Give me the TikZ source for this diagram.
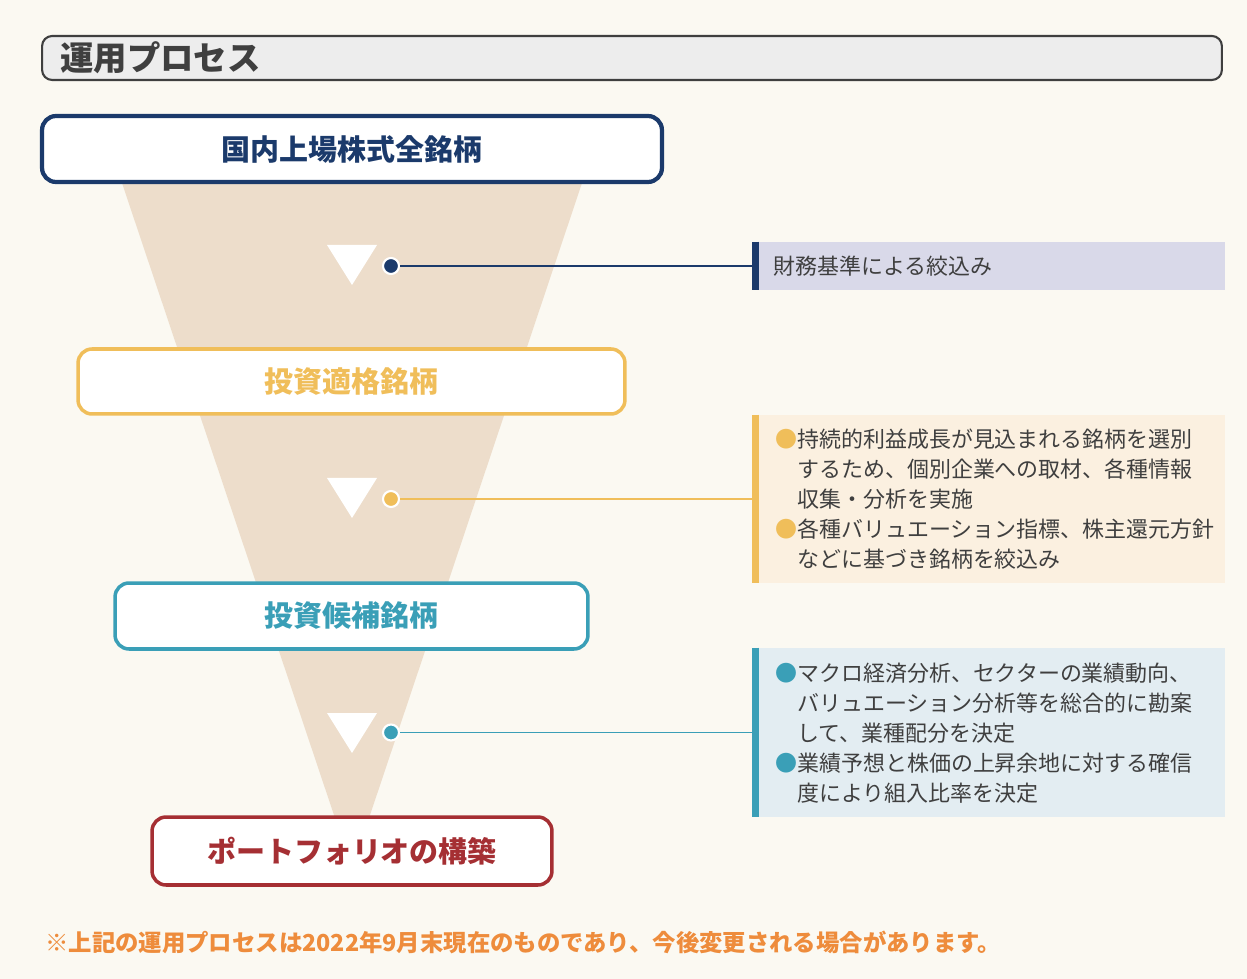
\documentclass[tikz,border=0pt]{standalone}
\usepackage{fontspec}
\newfontfamily\jp{Noto Sans CJK JP}
\usetikzlibrary{positioning}

\definecolor{bgcol}{HTML}{FBF9F2}
\definecolor{funnel}{HTML}{EDDDCB}
\definecolor{navy}{HTML}{1B3A6B}
\definecolor{gold}{HTML}{F0BE5A}
\definecolor{teal}{HTML}{3A9FB7}
\definecolor{wine}{HTML}{A52F33}
\definecolor{txtgray}{HTML}{3F3F3F}
\definecolor{titlegray}{HTML}{EDEDED}
\definecolor{lav}{HTML}{D9D9E9}
\definecolor{cream}{HTML}{FBF0E0}
\definecolor{ice}{HTML}{E3EDF2}
\definecolor{note}{HTML}{EE8C3C}

\begin{document}
\begin{tikzpicture}[x=0.02cm,y=-0.02cm,
	every node/.style={font=\jp},
	stage/.style={draw,fill=white,rounded corners=0.28cm,line width=2pt,minimum height=1.32cm,font=\jp\bfseries\fontsize{16.5}{18}\selectfont},
	panel/.style={inner sep=0,minimum width=9.46cm},
	paneltext/.style={anchor=west,inner sep=0,align=left,text=txtgray,font=\jp\fontsize{12.5}{17}\selectfont},
	dot/.style={circle,draw=white,line width=1.2pt,minimum size=0.32cm,inner sep=0},
	link/.style={line width=1.1pt}]

		%background
		\fill[bgcol] (0,0) rectangle (1247,979);
		\useasboundingbox (0,0) rectangle (1247,979);

		%title
		\node[draw=txtgray,fill=titlegray,line width=1.2pt,rounded corners=0.2cm,minimum width=23.6cm,minimum height=0.88cm] (title) at (632,58) {};
		\node[anchor=west,inner sep=0,text=txtgray,font=\jp\bfseries\fontsize{19}{21}\selectfont] (titletext) at (60,58) {運用プロセス};

		%funnel
		\fill[funnel] (122,183) -- (582,183) -- (365,830) -- (339,830) -- cycle;
		\foreach \ty in {245,478,713}
			\fill[white] (327,\ty) -- (377,\ty) -- (352,\ty+40) -- cycle;

		%stages
		\node[stage,draw=navy,text=navy,line width=2.4pt,minimum width=12.4cm] (univ) at (352,149) {国内上場株式全銘柄};
		\node[stage,draw=gold,text=gold,minimum width=10.94cm,minimum height=1.3cm] (elig) at (351.5,381.5) {投資適格銘柄};
		\node[stage,draw=teal,text=teal,minimum width=9.46cm] (cand) at (351.5,616) {投資候補銘柄};
		\node[stage,draw=wine,text=wine,minimum width=8cm,minimum height=1.36cm] (port) at (352,851) {ポートフォリオの構築};

		%dots
		\node[dot,fill=navy] (d1) at (391,266) {};
		\node[dot,fill=gold] (d2) at (391,499) {};
		\node[dot,fill=teal] (d3) at (391,732.5) {};

		%panels
		\node[panel,fill=lav,minimum height=0.96cm] (p1) at (988.5,266) {};
		\node[panel,fill=cream,minimum height=3.36cm] (p2) at (988.5,499) {};
		\node[panel,fill=ice,minimum height=3.38cm] (p3) at (988.5,732.5) {};
		\draw[navy,line width=4pt] ([xshift=2pt]p1.north west) -- ([xshift=2pt]p1.south west);
		\draw[gold,line width=4pt] ([xshift=2pt]p2.north west) -- ([xshift=2pt]p2.south west);
		\draw[teal,line width=4pt] ([xshift=2pt]p3.north west) -- ([xshift=2pt]p3.south west);

		\node[paneltext] (t1) at (773,266) {財務基準による絞込み};
		\node[paneltext] (t2) at (775,499) {{\color{gold}●}持続的利益成長が見込まれる銘柄を選別\\
			\hspace*{1em}するため、個別企業への取材、各種情報\\
			\hspace*{1em}収集・分析を実施\\
			{\color{gold}●}各種バリュエーション指標、株主還元方針\\
			\hspace*{1em}などに基づき銘柄を絞込み};
		\node[paneltext] (t3) at (775,733) {{\color{teal}●}マクロ経済分析、セクターの業績動向、\\
			\hspace*{1em}バリュエーション分析等を総合的に勘案\\
			\hspace*{1em}して、業種配分を決定\\
			{\color{teal}●}業績予想と株価の上昇余地に対する確信\\
			\hspace*{1em}度により組入比率を決定};

		%links
		\draw[link,navy] (d1) -- (p1.west);
		\draw[link,gold] (d2) -- (p2.west);
		\draw[link,teal] (d3) -- (p3.west);

		%note
		\node[anchor=west,inner sep=0,text=note,font=\jp\bfseries\fontsize{13.3}{15}\selectfont] (foot) at (45,942) {※上記の運用プロセスは2022年9月末現在のものであり、今後変更される場合があります。};

\end{tikzpicture}
\end{document}
